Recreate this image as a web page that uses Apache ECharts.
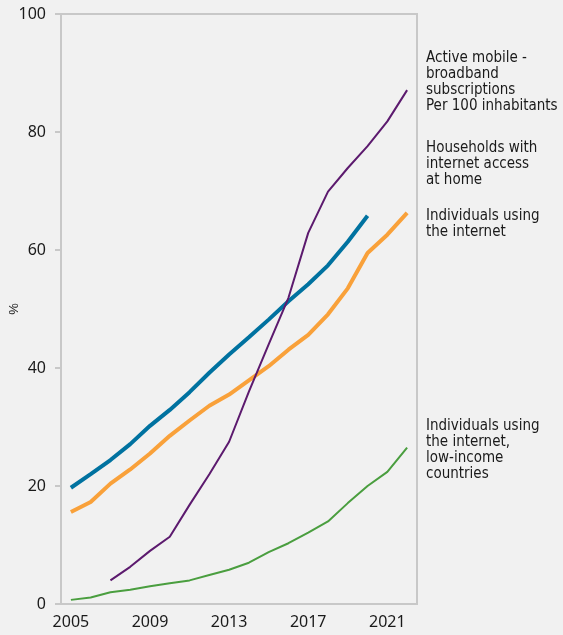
<!DOCTYPE html>
<html><head><meta charset="utf-8">
<script src="https://cdn.jsdelivr.net/npm/echarts@6/dist/echarts.min.js"></script>
<style>html,body{margin:0;padding:0;background:#f1f1f1}#c{width:563px;height:635px}</style>
</head><body><div id="c"></div>
<script>
const years = ['2005','2006','2007','2008','2009','2010','2011','2012','2013','2014','2015','2016','2017','2018','2019','2020','2021','2022'];
const mobileBroadband = [null,null,4.0,6.3,9.0,11.4,16.8,22.0,27.5,36.0,44.0,51.9,62.9,69.9,73.9,77.6,81.8,87.1];
const households = [19.7,22.0,24.4,27.1,30.2,32.9,35.9,39.2,42.3,45.2,48.2,51.3,54.2,57.4,61.4,65.8,null,null];
const individuals = [15.6,17.3,20.4,22.8,25.5,28.5,31.1,33.6,35.5,37.9,40.3,43.1,45.6,49.1,53.5,59.5,62.6,66.3];
const lowIncome = [0.7,1.1,2.0,2.4,3.0,3.5,4.0,4.9,5.8,7.0,8.8,10.3,12.1,14.0,17.1,20.0,22.4,26.5];
const labelMobile = ['Active mobile -','broadband','subscriptions','Per 100 inhabitants'];
const labelHouseholds = ['Households with','internet access','at home'];
const labelIndividuals = ['Individuals using','the internet'];
const labelLowIncome = ['Individuals using','the internet,','low-income','countries'];
const yAxisName = '%';

const chart = echarts.init(document.getElementById('c'));
const labelFont = '"DejaVu Sans Condensed","Liberation Sans Narrow","Roboto",sans-serif';
function textBlock(lines, top){
  return {type:'text', left:426, top:top, style:{text:lines.join('\n'), font:'15px '+labelFont, fill:'#1a1a1a', lineHeight:16}};
}
chart.setOption({
  backgroundColor:'#f1f1f1',
  animation:false,
  grid:{left:61,right:146,top:14,bottom:31,show:true,borderColor:'#c8c8c8',borderWidth:2,backgroundColor:'transparent',
    containLabel:false,outerBoundsMode:'none'},
  xAxis:{type:'category',data:years,boundaryGap:true,
    axisLine:{show:false},axisTick:{show:false},
    axisLabel:{interval:3,fontSize:16,color:'#1a1a1a',margin:10,fontFamily:'"Noto Sans",sans-serif'}},
  yAxis:{type:'value',min:0,max:100,interval:20,name:yAxisName,nameLocation:'middle',nameRotate:90,nameGap:40,
    nameMoveOverlap:false,
    nameTextStyle:{fontSize:13,color:'#1a1a1a'},
    splitLine:{show:false},axisLine:{show:false},
    axisTick:{show:true,length:6,lineStyle:{color:'#c8c8c8',width:2}},
    axisLabel:{fontSize:16,color:'#1a1a1a',margin:15,fontFamily:'"Noto Sans",sans-serif'}},
  graphic:[textBlock(labelMobile,50),textBlock(labelHouseholds,140),textBlock(labelIndividuals,208),textBlock(labelLowIncome,418)],
  series:[
    {type:'line',data:mobileBroadband,showSymbol:false,lineStyle:{color:'#5c1a6e',width:2},itemStyle:{color:'#5c1a6e'},z:3},
    {type:'line',data:households,showSymbol:false,lineStyle:{color:'#0072a0',width:4},itemStyle:{color:'#0072a0'},z:2},
    {type:'line',data:individuals,showSymbol:false,lineStyle:{color:'#f9a13a',width:4},itemStyle:{color:'#f9a13a'},z:2},
    {type:'line',data:lowIncome,showSymbol:false,lineStyle:{color:'#4a9e3f',width:2},itemStyle:{color:'#4a9e3f'},z:3}
  ]
});
</script></body></html>
